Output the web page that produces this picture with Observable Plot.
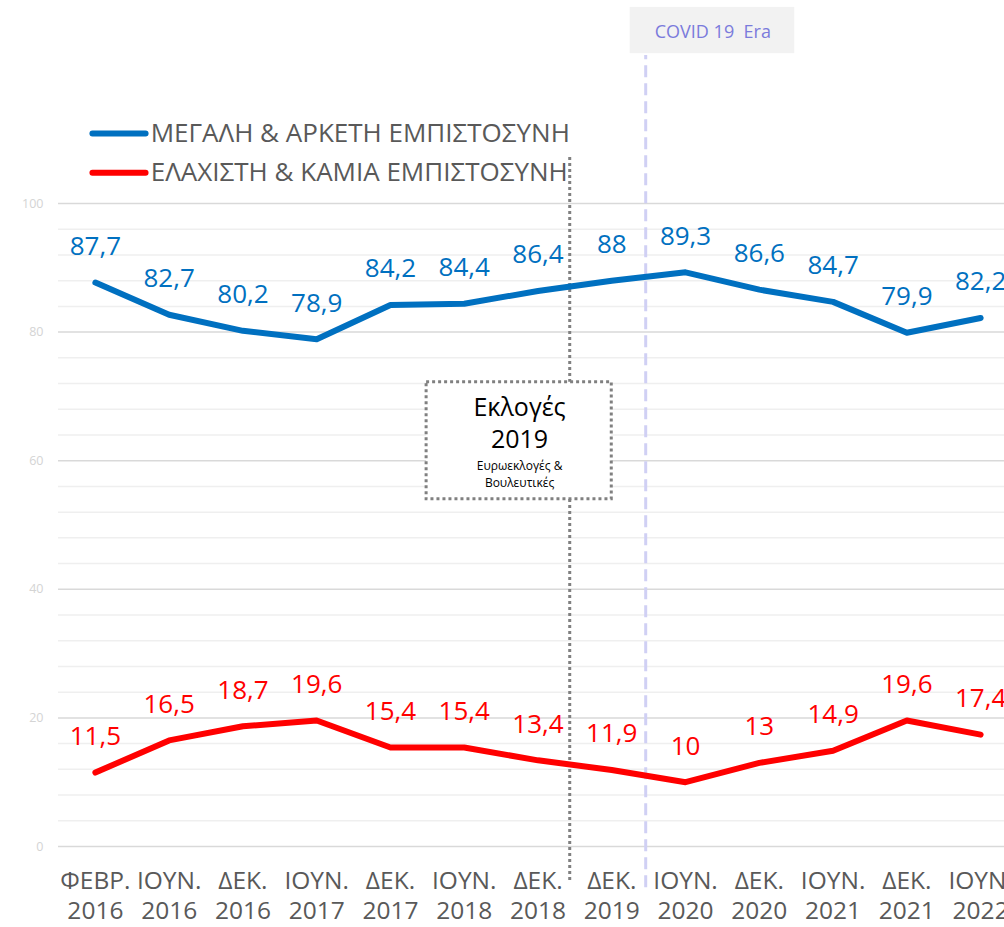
<!DOCTYPE html>
<html>
<head>
<meta charset="utf-8">
<script src="https://cdn.jsdelivr.net/npm/d3@7"></script>
<script src="https://cdn.jsdelivr.net/npm/@observablehq/plot@0.6"></script>
<style>
  html, body { margin: 0; padding: 0; background: #fff; overflow: hidden; }
  #chart svg { display: block; }
</style>
</head>
<body>
<div id="chart"></div>
<script>
// ---- data ----
const months = ["ΦΕΒΡ.", "ΙΟΥΝ.", "ΔΕΚ.", "ΙΟΥΝ.", "ΔΕΚ.", "ΙΟΥΝ.", "ΔΕΚ.", "ΔΕΚ.", "ΙΟΥΝ.", "ΔΕΚ.", "ΙΟΥΝ.", "ΔΕΚ.", "ΙΟΥΝ."];
const years  = ["2016", "2016", "2016", "2017", "2017", "2018", "2018", "2019", "2020", "2020", "2021", "2021", "2022"];
const highTrust = [87.7, 82.7, 80.2, 78.9, 84.2, 84.4, 86.4, 88, 89.3, 86.6, 84.7, 79.9, 82.2];
const lowTrust  = [11.5, 16.5, 18.7, 19.6, 15.4, 15.4, 13.4, 11.9, 10, 13, 14.9, 19.6, 17.4];
const seriesNames = ["ΜΕΓΑΛΗ & ΑΡΚΕΤΗ ΕΜΠΙΣΤΟΣΥΝΗ", "ΕΛΑΧΙΣΤΗ & ΚΑΜΙΑ ΕΜΠΙΣΤΟΣΥΝΗ"];
const seriesColors = ["#0070c0", "#ff0000"];
const yTicks = [0, 20, 40, 60, 80, 100];
const electionText = ["Εκλογές", "2019", "Ευρωεκλογές &", "Βουλευτικές"];
const covidText = "COVID 19  Era";

// ---- build tables ----
const idx = months.map((_, i) => i);
const highData = idx.map(i => ({i, v: highTrust[i]}));
const lowData  = idx.map(i => ({i, v: lowTrust[i]}));
const fmt = v => String(v).replace(".", ",");
const minorGrid = d3.range(0, 101, 4).filter(v => !yTicks.includes(v));

// annotation placement in data units (x = category index, y = percentage)
const legendRows = [
  {x1: -0.04, x2: 0.68, xt: 0.75, y: 110.9, name: seriesNames[0], color: seriesColors[0]},
  {x1: -0.04, x2: 0.68, xt: 0.75, y: 104.8, name: seriesNames[1], color: seriesColors[1]}
];
const electionBox = {x1: 4.49, x2: 7.0, y1: 54.0, y2: 72.2};
const electionLines = [
  {y: 68.2, t: electionText[0], s: 25},
  {y: 63.2, t: electionText[1], s: 25},
  {y: 59.2, t: electionText[2], s: 12},
  {y: 56.5, t: electionText[3], s: 12}
];
const covidBox = {x1: 7.25, x2: 9.48, y1: 123.3, y2: 130.5};

const font = "'Open Sans', 'Noto Sans', sans-serif";

const chart = Plot.plot({
  width: 1004,
  height: 927,
  marginLeft: 58,
  marginRight: 0,
  marginTop: 203,
  marginBottom: 81,
  style: {fontFamily: font, background: "#fff", overflow: "hidden"},
  x: {domain: [-0.5, 12.5], range: [58, 1017], axis: null},
  y: {domain: [0, 100], axis: null},
  marks: [
    // gridlines
    Plot.ruleY(minorGrid, {stroke: "#efefef", strokeWidth: 1.5}),
    Plot.ruleY(yTicks, {stroke: "#d9d9d9", strokeWidth: 1.5}),
    Plot.axisY({ticks: yTicks, tickSize: 0, tickPadding: 15, fontSize: 12.5, fill: "#d4d4d4", anchor: "left", label: null}),
    Plot.axisX({
      ticks: idx, tickSize: 0, tickPadding: 21, fontSize: 24.5, lineHeight: 1.24,
      fill: "#595959", label: null, anchor: "bottom",
      tickFormat: i => months[i] + "\n" + years[i]
    }),
    // vertical event lines
    Plot.ruleX([7.46], {y1: -6.4, y2: 123.0, stroke: "#d0d0f4", strokeWidth: 3, strokeDasharray: "12,6"}),
    Plot.ruleX([6.43], {y1: -5.3, y2: 107.5, stroke: "#808080", strokeWidth: 3, strokeDasharray: "3,3"}),
    // election box
    Plot.rect([electionBox], {x1: "x1", x2: "x2", y1: "y1", y2: "y2", fill: "#fff", stroke: "#808080", strokeWidth: 3, strokeDasharray: "3,3"}),
    Plot.text(electionLines, {x: 5.75, y: "y", text: "t", fontSize: d => d.s, fill: "#000", lineAnchor: "middle"}),
    // covid box
    Plot.rect([covidBox], {x1: "x1", x2: "x2", y1: "y1", y2: "y2", fill: "#f2f2f2"}),
    Plot.text([covidText], {x: 8.37, y: 126.7, text: d => d, fontSize: 18, fill: "#7b7bdc", lineAnchor: "middle"}),
    // series lines
    Plot.line(highData, {x: "i", y: "v", stroke: seriesColors[0], strokeWidth: 6, strokeLinejoin: "round", strokeLinecap: "round"}),
    Plot.line(lowData, {x: "i", y: "v", stroke: seriesColors[1], strokeWidth: 6, strokeLinejoin: "round", strokeLinecap: "round"}),
    // value labels
    Plot.text(highData, {x: "i", y: "v", text: d => fmt(d.v), dy: -36, fontSize: 26, fill: seriesColors[0], lineAnchor: "middle"}),
    Plot.text(lowData, {x: "i", y: "v", text: d => fmt(d.v), dy: -36, fontSize: 26, fill: seriesColors[1], lineAnchor: "middle"}),
    // legend
    Plot.link(legendRows, {x1: "x1", x2: "x2", y1: "y", y2: "y", stroke: "color", strokeWidth: 6, strokeLinecap: "round"}),
    Plot.text(legendRows, {x: "xt", y: "y", text: "name", textAnchor: "start", fontSize: 26, fill: "#595959", lineAnchor: "middle"})
  ]
});
document.getElementById("chart").appendChild(chart);
</script>
</body>
</html>
